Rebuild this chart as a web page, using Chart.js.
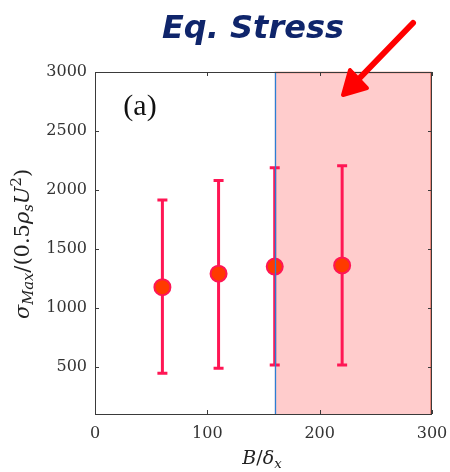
<!DOCTYPE html>
<html>
<head>
<meta charset="utf-8">
<script src="https://cdn.jsdelivr.net/npm/chart.js@4.4.1/dist/chart.umd.min.js"></script>
<style>
  body { margin: 0; background: #fff; }
  #wrap { width: 450px; height: 472px; }
</style>
</head>
<body>
<div id="wrap"><canvas id="chart" width="450" height="472"></canvas></div>
<script>
// Data
const xVals = [60, 110, 160, 220];
const meanVals = [1175, 1290, 1350, 1360];
const lowVals = [445, 488, 515, 515];
const highVals = [1915, 2080, 2188, 2205];

const xTicks = [0, 100, 200, 300];
const yTicks = [500, 1000, 1500, 2000, 2500, 3000];

const shadeFrom = 160;
const shadeTo = 300;
const markLine = 160;

const titleText = 'Eq. Stress';
const panelLabel = '(a)';

// draw a run of text pieces (italic, sub/superscripts) centred on 0,0
function drawMath(ctx, parts, size) {
    let total = 0;
    parts.forEach(p => {
        const s = p.small ? size * 0.7 : size;
        ctx.font = (p.italic ? 'italic ' : '') + s + 'px "DejaVu Serif"';
        p.w = ctx.measureText(p.t).width;
        p.s = s;
        total += p.w;
    });
    let x = -total / 2;
    ctx.textBaseline = 'alphabetic';
    ctx.textAlign = 'left';
    parts.forEach(p => {
        ctx.font = (p.italic ? 'italic ' : '') + p.s + 'px "DejaVu Serif"';
        ctx.fillText(p.t, x, p.dy || 0);
        x += p.w;
    });
}

const decor = {
    id: 'decor',
    beforeDatasetsDraw(chart) {
        const { ctx, chartArea: a, scales: { x, y } } = chart;
        ctx.save();
        // shaded region (edge on top and right only)
        const x0 = x.getPixelForValue(shadeFrom);
        const x1 = x.getPixelForValue(shadeTo);
        ctx.fillStyle = '#ffcccc';
        ctx.fillRect(x0, a.top, x1 - x0, a.bottom - a.top);
        ctx.strokeStyle = 'rgba(220,90,70,0.8)';
        ctx.lineWidth = 1.5;
        ctx.beginPath();
        ctx.moveTo(x0, a.top + 0.5);
        ctx.lineTo(x1 - 1, a.top + 0.5);
        ctx.lineTo(x1 - 1, a.bottom);
        ctx.stroke();

        // error bars
        ctx.strokeStyle = '#ff1654';
        ctx.lineWidth = 3;
        xVals.forEach((v, i) => {
            const px = x.getPixelForValue(v);
            const lo = y.getPixelForValue(lowVals[i]);
            const hi = y.getPixelForValue(highVals[i]);
            ctx.beginPath();
            ctx.moveTo(px, lo);
            ctx.lineTo(px, hi);
            ctx.moveTo(px - 5, lo);
            ctx.lineTo(px + 5, lo);
            ctx.moveTo(px - 5, hi);
            ctx.lineTo(px + 5, hi);
            ctx.stroke();
        });
        ctx.restore();
    },
    afterDatasetsDraw(chart) {
        const { ctx, chartArea: a, scales: { x, y } } = chart;
        ctx.save();
        // vertical threshold line
        const lx = Math.round(x.getPixelForValue(markLine)) + 0.5;
        ctx.strokeStyle = '#2a7fd4';
        ctx.lineWidth = 1.3;
        ctx.beginPath();
        ctx.moveTo(lx, a.top);
        ctx.lineTo(lx, a.bottom);
        ctx.stroke();

        // box + inward ticks
        ctx.strokeStyle = '#3a3a3a';
        ctx.lineWidth = 1;
        ctx.strokeRect(a.left + 0.5, a.top + 0.5, a.right - a.left - 1, a.bottom - a.top);
        ctx.beginPath();
        xTicks.forEach(v => {
            const px = Math.round(x.getPixelForValue(v)) + 0.5;
            ctx.moveTo(px, a.bottom);
            ctx.lineTo(px, a.bottom - 4);
            ctx.moveTo(px, a.top);
            ctx.lineTo(px, a.top + 4);
        });
        yTicks.forEach(v => {
            const py = Math.round(y.getPixelForValue(v)) + 0.5;
            ctx.moveTo(a.left, py);
            ctx.lineTo(a.left + 4, py);
            ctx.moveTo(a.right, py);
            ctx.lineTo(a.right - 4, py);
        });
        ctx.stroke();

        // panel label
        ctx.fillStyle = '#111';
        ctx.font = '30px "Liberation Serif"';
        ctx.textAlign = 'center';
        ctx.textBaseline = 'alphabetic';
        ctx.fillText(panelLabel, a.left + 45, a.top + 43);
        ctx.restore();
    },
    afterDraw(chart) {
        const { ctx } = chart;
        ctx.save();
        // title
        ctx.fillStyle = '#0f256b';
        ctx.font = 'italic bold 32px "DejaVu Sans"';
        ctx.textAlign = 'center';
        ctx.textBaseline = 'alphabetic';
        ctx.fillText(titleText, 253, 38);

        // arrow
        ctx.strokeStyle = '#ff0000';
        ctx.fillStyle = '#ff0000';
        ctx.lineWidth = 6;
        ctx.lineCap = 'round';
        ctx.beginPath();
        ctx.moveTo(413, 23);
        ctx.lineTo(350, 88);
        ctx.stroke();
        ctx.beginPath();
        ctx.moveTo(343, 95);
        ctx.lineTo(350, 70);
        ctx.lineTo(367, 88);
        ctx.closePath();
        ctx.fill();
        ctx.lineWidth = 4;
        ctx.lineJoin = 'round';
        ctx.stroke();

        // x axis title
        ctx.fillStyle = '#222';
        ctx.translate(262, 464);
        drawMath(ctx, [
            { t: 'B', italic: true },
            { t: '/' },
            { t: 'δ', italic: true },
            { t: 'x', italic: true, small: true, dy: 4 }
        ], 19);
        ctx.setTransform(1, 0, 0, 1, 0, 0);

        // y axis title
        ctx.translate(29, 244);
        ctx.rotate(-Math.PI / 2);
        drawMath(ctx, [
            { t: 'σ', italic: true },
            { t: 'Max', italic: true, small: true, dy: 4 },
            { t: '/(0.5' },
            { t: 'ρ', italic: true },
            { t: 's', italic: true, small: true, dy: 4 },
            { t: 'U', italic: true },
            { t: '2', small: true, dy: -8 },
            { t: ')' }
        ], 21);
        ctx.restore();
    }
};

new Chart(document.getElementById('chart'), {
    type: 'scatter',
    data: {
        datasets: [{
            data: xVals.map((v, i) => ({ x: v, y: meanVals[i] })),
            backgroundColor: '#ff3a00',
            borderColor: '#ff1654',
            borderWidth: 2,
            pointRadius: 8,
            pointHoverRadius: 8
        }]
    },
    options: {
        responsive: false,
        animation: false,
        layout: { padding: { top: 72, right: 18, left: 0, bottom: 0 } },
        plugins: {
            legend: { display: false },
            tooltip: { enabled: false }
        },
        scales: {
            x: {
                type: 'linear',
                min: 0,
                max: 300,
                grid: { display: false, drawTicks: false },
                border: { display: false },
                afterBuildTicks: s => { s.ticks = xTicks.map(v => ({ value: v })); },
                afterFit: s => {
                    s.height = 58;
                    s.paddingLeft = 0;
                    s.paddingRight = 0;
                },
                ticks: {
                    padding: 10,
                    maxRotation: 0,
                    color: '#333',
                    font: { family: 'DejaVu Serif', size: 16 },
                    callback: v => String(v)
                }
            },
            y: {
                min: 100,
                max: 3000,
                grid: { display: false, drawTicks: false },
                border: { display: false },
                afterBuildTicks: s => { s.ticks = yTicks.map(v => ({ value: v })); },
                afterFit: s => {
                    s.width = 95;
                    s.paddingTop = 0;
                    s.paddingBottom = 0;
                },
                ticks: {
                    padding: 8,
                    color: '#333',
                    font: { family: 'DejaVu Serif', size: 16 },
                    callback: v => String(v)
                }
            }
        }
    },
    plugins: [decor]
});
</script>
</body>
</html>
